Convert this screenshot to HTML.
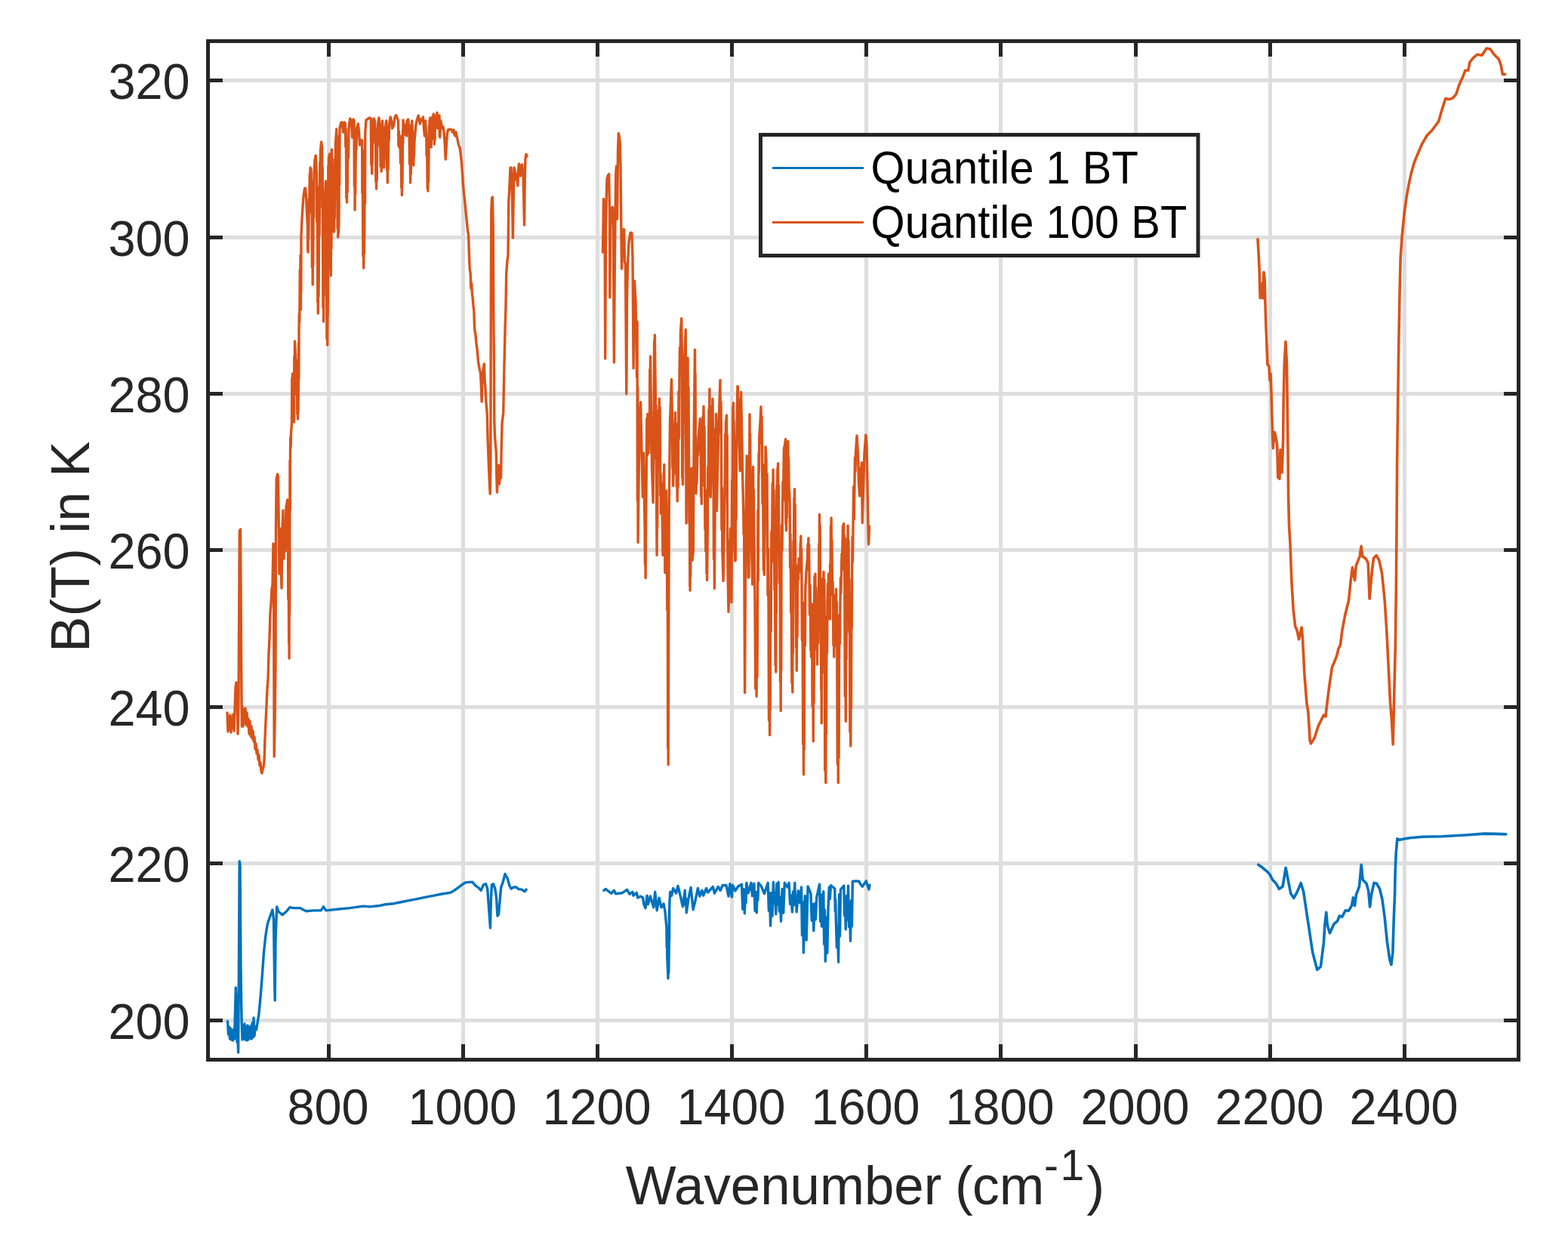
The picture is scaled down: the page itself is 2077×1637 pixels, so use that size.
<!DOCTYPE html>
<html><head><meta charset="utf-8"><title>B(T) spectra</title>
<style>html,body{margin:0;padding:0;background:#fff;width:2077px;height:1637px;overflow:hidden}svg{display:block}</style>
</head><body>
<svg width="2077" height="1637" viewBox="0 0 2077 1637" font-family="&quot;Liberation Sans&quot;, Arial, sans-serif"><path d="M435.5 54.5V1403.5M613.5 54.5V1403.5M791.5 54.5V1403.5M969.5 54.5V1403.5M1147.5 54.5V1403.5M1325.5 54.5V1403.5M1504.5 54.5V1403.5M1682.5 54.5V1403.5M1860.5 54.5V1403.5M275.5 1351.5H2011.5M275.5 1143.5H2011.5M275.5 936.5H2011.5M275.5 728.5H2011.5M275.5 521.5H2011.5M275.5 314.5H2011.5M275.5 106.5H2011.5" stroke="#DEDEDE" stroke-width="5" fill="none"/>
<polyline points="301.0,944.0 302.0,969.0 303.0,950.0 304.0,966.0 305.0,947.0 306.0,970.0 307.0,951.0 308.0,964.0 309.0,946.0 310.0,968.0 311.0,940.0 312.0,910.0 313.0,904.0 314.0,912.0 315.0,972.0 316.0,930.0 317.3,703.0 318.5,701.0 319.5,860.0 320.3,962.0 321.0,936.0 322.0,962.0 323.0,940.0 324.0,958.0 325.0,938.0 326.0,960.0 327.0,944.0 328.0,962.0 329.0,952.0 330.0,972.0 331.0,955.0 332.0,975.0 333.0,962.0 334.0,978.0 335.0,968.0 336.0,982.0 337.0,976.0 338.0,992.0 339.0,985.0 340.0,998.0 341.0,993.0 342.0,1006.0 343.0,1000.0 344.0,1014.0 345.0,1010.0 346.0,1022.0 347.0,1024.0 348.0,1019.0 349.0,1016.0 350.0,1008.0 351.0,978.0 352.0,955.0 353.0,935.0 354.0,912.0 355.0,900.0 356.0,865.0 357.0,845.0 358.0,812.0 359.0,800.0 360.0,780.0 361.0,775.0 362.0,720.0 362.6,800.0 363.2,1002.0 364.0,960.0 365.0,880.0 365.5,700.0 366.2,634.0 367.5,628.0 368.5,632.0 369.3,700.0 370.0,760.0 371.0,700.0 372.0,740.0 373.0,779.0 374.0,700.0 375.0,676.0 376.0,740.0 377.0,700.0 378.0,730.0 379.0,672.0 380.7,662.0 381.0,696.5 381.2,670.3 381.5,700.0 381.8,793.6 382.2,732.3 382.5,800.0 382.7,852.6 382.9,822.6 383.1,872.0 383.3,772.9 383.6,813.5 383.8,720.0 384.0,610.1 384.3,675.3 384.5,600.0 384.8,579.1 385.2,591.7 385.5,574.0 386.5,560.0 386.8,500.8 387.2,539.1 387.5,495.0 387.8,531.1 388.2,508.3 388.5,540.0 389.5,559.0 389.8,472.2 390.2,522.9 390.5,452.0 391.5,470.0 391.8,489.8 392.2,476.6 392.5,500.0 393.5,487.0 393.8,548.8 394.2,513.5 394.5,555.0 394.8,519.2 395.0,545.9 395.3,515.0 395.5,454.5 395.8,502.6 396.0,444.0 396.3,415.2 396.7,427.4 397.0,400.0 397.3,357.7 397.7,379.1 398.0,338.0 398.2,386.3 398.3,352.2 398.5,410.0 398.7,340.7 398.8,387.0 399.0,311.0 400.0,290.0 401.2,271.0 402.0,260.0 403.5,250.0 404.5,249.0 405.5,260.0 406.5,282.0 407.5,300.0 407.7,331.3 407.9,310.3 408.1,334.0 408.4,297.4 408.7,316.6 409.0,290.0 409.3,263.8 409.7,282.2 410.0,250.0 410.3,230.5 410.7,239.9 411.0,222.0 412.0,224.0 412.3,249.8 412.7,239.9 413.0,260.0 413.4,354.2 413.8,285.4 414.2,377.0 414.5,317.8 414.7,352.1 415.0,300.0 415.3,241.3 415.7,288.3 416.0,230.0 417.0,212.0 418.2,206.0 419.5,230.0 419.8,293.5 420.2,247.0 420.5,300.0 420.8,400.4 421.0,331.6 421.3,415.0 421.6,379.1 422.0,392.3 422.3,360.0 422.7,261.5 423.1,311.7 423.5,250.0 423.8,214.9 424.2,229.5 424.5,200.0 425.6,188.0 426.6,195.0 426.9,275.2 427.2,221.7 427.5,300.0 427.9,407.4 428.2,335.3 428.6,426.0 428.9,360.6 429.2,392.4 429.5,330.0 429.8,274.0 430.2,312.7 430.5,260.0 431.5,240.0 431.8,279.3 432.2,252.6 432.5,300.0 432.9,448.5 433.3,360.4 433.7,457.0 434.0,380.6 434.2,419.3 434.5,350.0 434.8,219.8 435.2,314.6 435.5,210.0 436.5,204.0 436.8,280.4 437.2,246.8 437.5,300.0 437.8,356.4 438.0,311.4 438.3,365.0 438.7,210.8 439.0,329.3 439.4,198.0 439.8,224.6 440.1,210.9 440.5,230.0 440.8,267.6 441.2,241.9 441.5,280.0 441.8,302.4 442.2,291.8 442.5,307.0 442.8,267.6 443.2,289.0 443.5,250.0 443.8,210.3 444.2,239.7 444.5,190.0 445.7,171.0 446.0,215.0 446.4,183.4 446.7,220.0 447.1,303.1 447.4,244.8 447.8,314.0 448.2,289.6 448.6,308.1 449.0,280.0 449.3,179.1 449.7,244.9 450.0,170.0 451.5,163.0 453.0,162.0 454.5,175.0 456.0,162.0 457.4,164.0 457.8,194.6 458.1,170.4 458.5,200.0 458.8,262.3 459.2,211.0 459.5,268.0 459.8,222.6 460.2,254.7 460.5,220.0 461.0,185.0 461.5,208.9 462.0,170.0 463.7,157.0 465.5,160.0 466.5,182.0 468.0,158.0 469.0,160.0 469.4,247.1 469.7,186.7 470.1,278.0 470.4,238.6 470.7,258.0 471.0,220.0 471.5,187.3 472.0,197.8 472.5,170.0 474.3,164.0 475.5,175.0 476.5,192.0 477.5,185.0 478.5,190.0 479.6,186.0 479.9,255.6 480.2,199.6 480.5,260.0 480.9,339.4 481.3,302.2 481.7,355.0 482.1,307.9 482.4,335.8 482.8,300.0 483.1,198.4 483.5,269.7 483.8,175.0 485.0,159.0 486.5,158.0 488.0,157.0 489.5,156.0 491.3,157.0 491.8,218.5 492.2,188.6 492.7,230.0 493.0,189.2 493.2,216.4 493.5,175.0 495.0,157.0 496.5,160.0 496.9,189.6 497.2,170.0 497.6,200.0 497.9,241.2 498.2,216.4 498.5,250.0 498.8,217.2 499.2,238.8 499.5,200.0 499.8,171.5 500.2,194.0 500.5,165.0 502.0,156.0 503.5,170.0 504.1,220.6 504.6,187.0 505.2,227.0 505.6,180.4 506.1,206.9 506.5,160.0 507.5,180.0 507.9,219.3 508.2,188.5 508.6,222.0 509.7,200.0 510.1,168.6 510.6,191.4 511.0,165.0 511.8,160.0 512.0,187.8 512.3,167.1 512.5,190.0 512.8,226.0 513.1,212.0 513.4,242.0 513.8,210.7 514.1,224.3 514.5,200.0 514.8,167.7 515.2,185.9 515.5,165.0 517.1,155.0 518.5,160.0 519.5,170.0 521.3,167.0 523.0,155.0 524.5,152.5 526.0,156.0 527.5,160.0 527.9,192.9 528.3,173.7 528.7,195.0 530.0,180.0 530.5,216.2 531.0,191.4 531.5,220.0 531.8,249.0 532.1,228.8 532.4,258.6 532.7,209.1 533.0,242.5 533.3,200.0 533.5,172.6 533.8,189.5 534.0,159.0 535.5,170.0 536.5,178.0 537.5,165.0 538.5,180.0 539.3,160.0 540.5,158.0 542.0,170.0 542.5,217.0 543.1,192.2 543.6,242.0 543.9,206.5 544.3,230.2 544.6,200.0 545.0,165.2 545.3,191.1 545.7,160.0 546.7,180.0 547.1,208.0 547.4,190.7 547.8,219.0 548.1,192.3 548.5,206.7 548.8,190.0 549.9,176.0 551.0,165.0 552.5,158.0 554.2,153.0 555.2,158.0 556.3,164.0 557.5,158.0 559.0,160.0 560.5,155.0 561.5,170.0 562.5,180.0 563.5,160.0 564.7,180.0 565.1,206.1 565.4,189.9 565.8,210.0 566.2,249.5 566.5,228.8 566.9,253.0 567.3,215.7 567.6,241.1 568.0,200.0 568.3,167.2 568.7,184.9 569.0,160.0 570.0,156.0 570.4,189.7 570.7,165.9 571.1,195.0 571.5,174.0 571.8,183.9 572.2,165.0 573.2,155.0 574.3,151.0 574.6,184.5 575.0,160.2 575.3,191.0 575.6,166.6 576.0,186.0 576.3,165.0 577.3,155.0 579.0,149.3 579.6,170.0 580.5,155.0 582.0,153.0 582.3,180.3 582.5,160.7 582.8,182.0 583.8,160.0 584.9,165.0 586.0,170.0 587.0,168.0 588.0,175.0 589.2,190.0 590.2,211.0 591.2,195.0 592.3,178.0 593.3,172.0 594.4,172.0 596.0,171.0 598.0,172.0 599.5,175.0 600.8,172.0 601.8,178.0 603.0,180.0 603.9,175.0 605.0,180.0 606.1,185.0 607.5,192.0 609.2,196.0 610.3,205.0 611.4,215.0 612.5,230.0 613.5,245.0 614.7,258.0 615.9,269.0 617.0,280.0 618.3,293.0 619.5,305.0 620.6,312.0 621.5,340.0 622.3,357.0 623.2,362.0 623.8,382.0 624.6,375.0 625.4,390.0 626.2,395.0 627.0,405.0 627.8,411.0 628.6,436.0 629.4,440.0 630.2,446.0 631.0,455.0 632.0,462.0 633.4,478.0 634.5,485.0 635.5,490.0 636.5,494.0 637.3,510.0 638.1,532.0 639.0,500.0 640.0,490.0 641.3,482.0 642.1,505.0 642.9,513.0 643.7,530.0 644.5,540.0 645.3,549.0 646.0,579.0 646.8,600.0 647.6,621.0 648.4,640.0 649.2,654.0 649.8,620.0 650.3,400.0 650.8,280.0 651.6,262.0 652.4,261.0 653.2,300.0 653.8,420.0 654.4,481.0 654.8,557.0 655.5,579.0 656.5,590.0 657.2,598.0 657.8,630.0 658.4,652.0 659.0,640.0 660.4,616.0 661.5,641.0 662.5,625.0 663.5,633.0 664.3,589.0 665.1,560.0 666.7,547.0 667.5,506.0 668.3,468.0 669.2,430.0 669.9,409.0 670.7,362.0 672.0,345.0 673.0,338.0 673.8,266.0 674.6,254.0 676.0,222.0 677.0,222.0 678.0,240.0 678.8,280.0 679.4,315.0 680.2,260.0 681.0,222.0 682.0,226.0 683.0,238.0 684.0,230.0 685.0,238.0 685.8,246.0 686.6,225.0 687.4,217.0 688.5,222.0 689.5,233.0 690.5,220.0 691.5,218.0 692.1,225.0 693.0,230.0 694.5,298.0 695.3,230.0 696.0,210.0 697.0,204.3 698.0,206.7" stroke="#D95319" stroke-width="3.4" fill="none" stroke-linejoin="round" stroke-linecap="round"/>
<polyline points="798.5,334.0 799.5,263.5 801.0,280.0 801.7,475.0 802.5,300.0 803.3,259.0 804.0,237.0 805.5,232.0 806.6,230.6 807.5,280.0 807.8,394.0 808.5,300.0 809.5,285.0 810.5,275.0 811.5,274.5 812.3,300.0 813.4,480.0 814.3,350.0 815.0,290.0 815.7,231.0 816.5,220.0 817.6,290.0 818.5,200.0 819.4,176.5 820.3,182.0 821.3,190.0 822.0,221.0 822.8,300.0 823.5,356.0 824.3,330.0 825.0,303.9 826.7,304.0 827.5,347.0 828.5,350.0 829.8,521.7 830.5,400.0 831.5,350.0 833.0,320.0 835.0,308.3 836.8,308.4 838.0,340.0 839.1,487.8 839.5,420.0 840.5,372.0 842.0,400.0 843.6,500.0 843.8,435.2 843.9,473.0 844.1,426.0 844.4,662.7 844.8,512.9 845.1,718.6 846.5,600.0 847.2,539.5 847.9,582.8 848.6,532.7 850.0,600.0 851.4,658.2 851.8,610.5 852.1,633.4 852.5,600.0 854.1,700.4 854.4,747.0 854.8,716.5 855.1,765.5 856.3,620.0 856.8,553.9 857.3,603.5 857.8,548.3 859.0,600.0 859.5,562.5 860.0,585.5 860.5,560.0 860.8,489.1 861.2,529.6 861.5,472.0 862.5,550.0 862.8,599.9 863.2,571.2 863.5,620.0 865.1,665.6 866.2,520.0 866.6,451.7 866.9,492.0 867.3,443.8 868.3,520.0 868.6,607.3 869.0,536.8 869.3,620.0 870.1,735.2 870.4,674.0 870.7,700.0 871.0,650.0 871.3,593.5 871.7,621.6 872.0,580.0 872.5,542.9 872.9,558.5 873.4,528.0 873.8,590.3 874.1,539.5 874.5,600.0 874.8,656.1 875.2,628.1 875.5,680.0 875.8,642.5 876.2,673.7 876.5,640.0 878.0,735.2 878.3,673.3 878.7,701.6 879.0,650.0 879.3,625.5 879.5,637.6 879.8,615.2 880.2,710.3 880.5,679.3 880.9,758.6 881.1,719.9 881.4,743.8 881.6,700.0 882.5,650.0 883.5,720.0 883.8,807.9 884.2,738.6 884.5,837.0 884.7,991.6 885.0,902.4 885.2,1012.7 886.2,676.6 887.5,560.0 889.5,502.5 890.5,560.0 890.9,620.0 891.3,589.1 891.7,643.6 892.1,607.1 892.6,628.4 893.0,590.0 894.5,546.4 894.9,590.6 895.4,560.8 895.8,600.0 896.3,644.2 896.7,627.9 897.2,663.7 897.6,610.7 898.1,646.1 898.5,600.0 899.0,518.3 899.5,580.8 900.0,500.0 900.5,460.4 901.0,488.1 901.5,440.0 902.7,421.8 903.5,480.0 903.8,632.8 904.2,549.6 904.5,641.7 905.5,520.0 905.8,488.7 906.2,511.0 906.5,480.0 908.2,436.5 909.1,693.0 910.0,550.0 911.0,474.0 911.5,571.9 912.0,512.8 912.5,600.0 912.9,692.5 913.3,638.2 913.7,740.0 913.8,776.5 914.0,749.4 914.1,782.1 914.4,724.3 914.7,764.1 915.0,700.0 915.3,635.5 915.7,676.9 916.0,620.0 916.3,722.8 916.7,646.1 917.0,742.0 918.3,730.0 919.3,560.0 920.5,463.1 920.8,541.0 921.0,494.5 921.3,560.0 921.5,632.6 921.8,588.8 922.0,653.6 922.5,630.8 923.0,640.5 923.5,620.0 924.0,587.8 924.5,602.9 925.0,580.0 927.4,554.7 927.7,597.5 928.0,566.6 928.3,600.0 928.6,657.7 929.0,612.2 929.3,667.4 929.7,606.6 930.1,643.7 930.5,600.0 931.0,551.5 931.5,583.1 932.0,538.2 932.5,596.5 933.0,564.9 933.5,620.0 933.9,700.9 934.4,648.8 934.8,730.0 935.7,700.0 936.0,760.0 936.3,714.2 936.6,768.4 937.5,690.0 937.8,619.0 938.2,656.2 938.5,600.0 939.0,541.9 939.4,584.2 939.9,515.3 940.1,573.9 940.3,537.4 940.5,580.0 941.2,658.2 942.5,600.0 943.0,539.0 943.4,572.5 943.9,528.1 945.0,620.0 945.5,740.6 945.9,665.7 946.4,779.2 947.3,650.0 947.7,567.8 948.1,620.2 948.5,548.3 949.4,676.6 950.5,620.0 952.0,560.0 954.0,503.4 954.5,572.9 955.0,532.1 955.5,600.0 955.9,701.2 956.4,646.0 956.8,730.0 958.1,769.4 959.5,680.0 960.5,620.0 960.8,574.6 961.2,593.0 961.5,560.0 962.5,550.0 962.8,650.5 963.2,576.4 963.5,700.0 964.1,760.0 965.0,810.4 966.0,760.0 966.5,715.7 967.0,746.8 967.5,700.0 968.9,797.7 969.5,700.0 969.8,635.4 970.2,685.3 970.5,620.0 970.8,539.2 971.1,587.5 971.4,533.6 971.8,587.0 972.1,557.8 972.5,600.0 972.9,731.2 973.3,641.2 973.7,742.9 974.3,742.0 974.7,607.3 975.1,687.4 975.5,600.0 976.9,511.6 977.4,512.0 977.8,543.6 978.1,527.8 978.5,560.0 979.5,600.0 980.2,623.8 980.7,540.7 981.1,595.4 981.6,519.3 982.8,580.0 983.8,636.6 984.8,680.0 985.1,708.2 985.4,687.5 985.7,710.0 986.6,917.6 987.5,750.0 988.5,650.0 989.3,603.6 989.6,634.0 989.9,613.5 990.2,640.0 991.2,764.9 992.0,764.6 993.0,548.6 993.3,605.0 993.7,574.6 994.0,620.0 995.7,730.0 996.7,774.0 997.6,618.3 998.0,694.5 998.4,648.4 998.8,700.0 1000.0,800.0 1000.7,911.9 1001.4,822.0 1002.1,922.2 1002.6,814.7 1003.0,896.6 1003.5,800.0 1003.9,676.1 1004.3,768.9 1004.7,650.0 1005.1,600.2 1005.4,626.0 1005.8,578.0 1007.0,560.0 1008.0,538.6 1008.5,587.1 1009.0,551.6 1009.5,600.0 1010.0,667.2 1010.5,615.1 1011.0,700.0 1011.4,755.2 1011.8,721.3 1012.2,761.2 1012.5,712.5 1012.7,739.6 1013.0,700.0 1013.3,620.9 1013.7,667.4 1014.0,591.7 1015.0,609.0 1015.5,688.7 1016.0,627.4 1016.5,700.0 1017.0,788.5 1017.5,727.1 1018.0,800.0 1018.5,953.8 1019.1,871.0 1019.6,973.5 1019.9,887.2 1020.2,940.8 1020.5,850.0 1020.8,783.5 1021.2,836.2 1021.5,760.0 1021.9,703.6 1022.4,744.4 1022.8,700.0 1023.2,640.4 1023.7,677.9 1024.1,622.0 1024.6,679.9 1025.0,648.9 1025.5,700.0 1025.9,781.2 1026.3,742.4 1026.7,800.0 1027.1,880.8 1027.4,821.7 1027.8,890.1 1028.1,690.9 1028.4,812.6 1028.7,666.0 1029.0,642.5 1029.4,661.4 1029.7,640.0 1030.0,619.8 1030.3,631.9 1030.6,613.7 1031.0,690.5 1031.4,642.9 1031.8,700.0 1032.3,772.0 1032.8,728.7 1033.3,800.0 1033.6,903.7 1033.9,861.8 1034.2,941.4 1034.5,760.3 1034.8,888.1 1035.1,739.2 1035.6,695.1 1036.0,728.9 1036.5,680.0 1037.0,638.0 1037.5,663.0 1038.0,620.0 1038.5,592.4 1039.0,607.2 1039.5,590.0 1040.6,581.6 1040.9,694.0 1041.2,611.6 1041.5,702.6 1041.9,643.0 1042.3,685.5 1042.7,620.0 1043.1,592.9 1043.5,610.9 1043.9,584.4 1044.3,624.4 1044.6,606.2 1045.0,640.0 1045.4,661.4 1045.7,651.0 1046.1,667.8 1046.6,752.0 1047.0,707.2 1047.5,760.0 1047.8,811.4 1048.2,786.1 1048.5,820.0 1048.9,904.6 1049.4,859.7 1049.8,916.7 1050.1,814.5 1050.4,864.9 1050.7,800.0 1051.0,716.3 1051.3,764.9 1051.6,700.0 1051.9,659.7 1052.2,689.4 1052.5,647.6 1052.8,702.3 1053.2,668.8 1053.5,720.0 1053.8,776.5 1054.1,755.1 1054.4,800.0 1054.7,858.1 1055.0,822.5 1055.3,888.3 1055.7,788.1 1056.1,843.4 1056.5,780.0 1057.0,748.8 1057.5,767.5 1058.0,740.0 1059.9,752.0 1060.2,719.8 1060.5,742.1 1060.8,710.0 1061.2,758.7 1061.6,727.1 1062.0,780.0 1062.4,847.9 1062.9,799.3 1063.3,880.0 1063.7,985.7 1064.1,920.2 1064.5,1025.7 1064.8,916.0 1065.2,993.1 1065.5,880.0 1065.9,796.7 1066.4,854.9 1066.8,780.0 1068.1,755.7 1069.5,740.0 1070.0,721.0 1070.4,728.9 1070.9,712.6 1071.3,754.5 1071.6,721.6 1072.0,760.0 1072.5,814.2 1073.1,775.1 1073.6,820.0 1073.9,861.7 1074.2,833.4 1074.5,870.0 1074.8,816.3 1075.2,849.6 1075.5,800.0 1076.1,935.4 1076.7,872.9 1077.3,981.7 1077.7,848.1 1078.1,931.3 1078.5,820.0 1079.0,763.2 1079.5,795.9 1080.0,760.0 1080.5,806.4 1081.0,778.4 1081.5,820.0 1081.8,860.9 1082.2,846.9 1082.5,880.0 1083.2,805.5 1083.9,851.7 1084.6,800.0 1084.9,720.2 1085.2,771.4 1085.5,681.5 1085.8,732.7 1086.2,695.8 1086.5,760.0 1086.8,802.1 1087.2,771.6 1087.5,820.0 1087.8,913.4 1088.0,880.9 1088.3,957.9 1088.6,852.9 1089.0,891.6 1089.3,800.0 1089.9,766.2 1090.4,786.5 1091.0,757.5 1091.4,807.5 1091.9,768.0 1092.3,820.0 1092.8,1020.6 1093.3,905.9 1093.8,1036.7 1094.1,902.8 1094.5,972.0 1094.8,880.0 1095.2,816.2 1095.6,864.8 1096.0,800.0 1096.5,772.7 1097.0,791.5 1097.5,760.0 1098.1,802.9 1098.7,775.8 1099.3,820.0 1099.6,747.4 1099.9,786.3 1100.2,740.0 1100.5,696.7 1100.8,717.0 1101.1,686.0 1101.5,736.4 1101.9,715.3 1102.3,760.0 1102.7,788.5 1103.1,770.5 1103.5,800.0 1103.9,854.5 1104.4,819.5 1104.8,870.0 1105.2,825.5 1105.6,850.3 1106.0,820.0 1106.5,788.3 1107.0,810.6 1107.5,780.0 1107.9,855.7 1108.4,797.5 1108.8,860.0 1109.3,1011.9 1109.8,921.4 1110.3,1036.7 1110.7,908.9 1111.1,1003.7 1111.5,880.0 1112.0,814.1 1112.5,852.5 1113.0,800.0 1113.5,765.1 1114.0,785.6 1114.5,760.0 1115.0,733.4 1115.5,744.7 1116.0,720.0 1116.5,696.0 1117.1,711.2 1117.6,693.4 1118.0,754.8 1118.4,709.2 1118.8,780.0 1119.3,922.5 1119.8,816.1 1120.3,955.2 1120.7,771.0 1121.1,873.3 1121.5,760.0 1122.0,712.9 1122.6,746.4 1123.1,696.2 1123.6,768.3 1124.0,715.7 1124.5,780.0 1124.8,837.4 1125.2,799.2 1125.5,850.0 1125.9,969.6 1126.4,889.6 1126.8,988.1 1127.1,893.3 1127.5,938.3 1127.8,850.0 1128.1,766.9 1128.3,830.7 1128.6,760.0 1129.1,711.3 1129.5,743.9 1130.0,700.0 1130.7,644.4 1131.3,687.4 1132.0,640.0 1132.5,605.7 1133.0,624.6 1133.5,600.0 1135.0,577.0 1136.5,600.0 1137.5,640.0 1138.7,656.8 1139.5,620.0 1140.5,630.0 1141.4,612.8 1142.3,692.5 1143.5,650.0 1145.0,600.0 1146.9,576.1 1148.0,590.0 1149.0,640.0 1150.0,700.0 1150.6,720.9 1151.5,697.0" stroke="#D95319" stroke-width="3.4" fill="none" stroke-linejoin="round" stroke-linecap="round"/>
<polyline points="1666.0,316.7 1667.0,333.0 1668.2,358.0 1669.2,394.8 1670.0,380.0 1671.4,375.5 1672.5,395.0 1674.0,360.6 1675.2,370.0 1675.7,392.6 1676.7,424.7 1677.8,452.5 1678.9,482.4 1681.0,485.6 1682.0,503.8 1683.1,495.3 1684.2,525.2 1685.3,565.8 1686.3,593.6 1688.0,572.2 1689.5,576.5 1691.7,589.3 1692.8,632.1 1694.9,634.2 1696.0,595.8 1698.1,625.7 1699.6,582.9 1700.2,529.5 1701.3,482.4 1703.0,452.5 1704.5,482.4 1705.2,531.6 1706.0,595.8 1706.6,658.6 1707.6,697.7 1709.0,719.7 1710.8,768.6 1713.2,807.7 1715.7,829.7 1718.1,834.6 1720.5,846.8 1724.2,831.0 1725.4,845.0 1726.7,868.8 1727.9,893.2 1731.0,932.3 1732.8,942.0 1735.2,981.2 1736.4,984.8 1741.3,977.0 1746.2,961.6 1749.9,954.0 1753.5,947.0 1756.0,949.0 1757.2,937.2 1759.6,917.7 1760.9,908.0 1764.5,883.4 1767.0,878.0 1770.6,868.8 1773.1,859.0 1775.5,854.0 1778.0,834.6 1781.6,815.0 1784.1,805.0 1786.5,795.5 1789.0,771.0 1791.4,751.5 1794.6,768.6 1796.3,749.0 1801.2,736.8 1803.1,723.4 1804.8,736.8 1809.7,740.5 1812.2,746.0 1814.1,793.0 1817.1,758.8 1819.5,739.3 1823.2,735.6 1826.8,742.0 1830.5,758.8 1834.2,795.5 1836.6,832.1 1839.1,881.0 1841.5,929.9 1843.5,954.3 1845.2,986.0 1846.4,934.8 1848.3,856.6 1849.3,780.8 1850.0,702.6 1850.6,615.5 1851.7,532.4 1852.7,459.7 1853.7,403.6 1854.2,380.0 1855.2,340.3 1857.2,312.1 1860.2,281.8 1863.3,259.7 1866.3,243.5 1869.3,229.4 1873.3,215.3 1877.4,205.2 1883.4,191.1 1890.5,179.0 1896.5,173.0 1905.6,160.9 1909.6,146.8 1914.7,130.6 1919.7,131.6 1924.7,129.6 1928.8,124.6 1932.8,112.5 1937.8,101.4 1940.9,93.3 1944.9,93.3 1946.9,82.3 1952.0,76.2 1957.0,72.2 1963.0,73.2 1969.1,64.1 1974.1,65.1 1979.2,72.2 1985.2,78.2 1988.2,86.3 1990.3,98.4 1993.7,98.4" stroke="#D95319" stroke-width="3.6" fill="none" stroke-linejoin="round" stroke-linecap="round"/>
<polyline points="301.5,1352.7 302.5,1370.0 303.5,1360.0 304.5,1376.0 305.5,1362.0 306.5,1377.0 307.5,1365.0 308.5,1378.0 309.5,1363.0 310.5,1376.0 311.5,1340.0 312.3,1308.0 313.2,1330.0 314.0,1380.0 315.0,1375.0 315.6,1394.0 316.3,1300.0 317.2,1140.7 318.0,1145.0 319.0,1285.0 320.0,1349.0 321.0,1377.0 322.0,1358.0 323.0,1376.0 324.0,1356.0 325.0,1377.0 326.0,1360.0 327.0,1378.0 328.0,1358.0 329.0,1377.0 330.0,1361.0 331.0,1375.0 332.0,1359.0 333.0,1376.0 334.0,1355.0 335.0,1374.0 336.0,1348.0 337.0,1372.0 338.0,1360.0 339.5,1364.0 341.0,1355.0 342.8,1344.0 344.4,1328.0 346.1,1308.0 347.7,1287.0 349.4,1262.0 351.9,1239.0 354.3,1224.0 357.6,1214.0 360.9,1205.0 362.5,1217.0 363.5,1290.0 364.2,1325.0 365.0,1245.0 366.7,1201.0 369.0,1207.5 374.1,1211.6 379.0,1207.5 384.0,1201.7 389.0,1202.6 397.2,1202.6 405.5,1206.7 415.4,1205.9 425.2,1205.9 428.5,1200.9 431.8,1205.9 446.7,1204.2 463.2,1202.6 481.3,1200.1 490.0,1200.9 500.6,1199.8 511.2,1197.7 521.8,1196.7 532.4,1194.5 543.0,1192.4 553.6,1190.3 564.1,1188.2 574.7,1186.1 585.3,1184.0 595.9,1182.4 601.2,1179.7 606.5,1176.0 611.8,1171.8 617.1,1168.6 625.6,1168.1 629.8,1172.8 634.1,1176.0 637.2,1179.2 640.4,1171.8 643.6,1170.7 645.7,1177.1 646.8,1193.0 648.4,1214.1 649.4,1229.0 650.5,1187.7 651.5,1171.8 653.6,1170.7 655.8,1177.1 657.4,1187.7 659.0,1213.1 660.5,1211.0 662.1,1193.0 663.7,1175.0 665.8,1169.7 669.0,1157.5 672.2,1163.3 674.8,1172.8 677.0,1177.1 680.7,1175.0 683.8,1175.0 687.0,1177.6 691.2,1178.1 695.0,1180.8 697.1,1178.1" stroke="#0072BD" stroke-width="3.4" fill="none" stroke-linejoin="round" stroke-linecap="round"/>
<polyline points="799.8,1179.3 802.2,1177.4 809.6,1183.2 813.5,1179.3 815.4,1183.7 824.2,1182.7 830.6,1178.3 834.0,1184.2 837.9,1181.3 838.9,1186.2 843.3,1182.3 844.7,1189.1 848.7,1187.1 851.6,1189.0 852.6,1196.9 855.0,1202.8 857.0,1186.2 858.4,1197.9 861.4,1187.0 865.8,1201.8 867.7,1181.3 870.2,1205.7 873.1,1189.1 876.0,1201.8 879.0,1197.0 880.9,1206.7 882.9,1228.2 883.2,1254.7 883.5,1245.6 883.8,1267.3 885.0,1295.7 885.4,1266.0 885.8,1288.4 886.2,1257.5 886.4,1206.8 886.6,1245.4 886.8,1196.9 887.8,1181.3 889.7,1186.2 891.7,1176.4 895.6,1183.0 898.0,1173.5 901.4,1187.1 904.4,1200.8 907.3,1179.3 908.0,1198.7 908.6,1190.1 909.3,1208.7 912.2,1189.0 915.1,1175.4 918.1,1204.7 921.0,1193.0 924.4,1176.4 926.9,1187.1 929.8,1179.3 931.7,1186.0 935.6,1176.4 937.6,1182.0 944.4,1174.4 946.4,1183.2 951.3,1174.4 954.2,1179.3 957.2,1172.5 962.0,1172.5 965.0,1187.1 966.9,1170.5 969.4,1188.1 970.5,1172.1 973.9,1179.9 977.7,1174.0 982.5,1171.2 983.8,1204.3 985.1,1177.4 986.4,1209.7 987.2,1179.3 988.0,1195.9 988.8,1169.3 991.2,1182.7 995.0,1169.3 996.5,1186.6 998.9,1170.2 1000.1,1206.3 1001.1,1181.5 1002.3,1208.7 1003.1,1181.1 1003.9,1191.9 1004.7,1169.3 1008.5,1174.0 1012.4,1183.7 1017.2,1169.3 1018.4,1206.3 1019.4,1182.4 1020.6,1226.1 1021.9,1182.6 1023.1,1213.2 1024.4,1168.3 1025.6,1196.4 1026.6,1182.5 1027.8,1210.7 1028.9,1170.4 1030.0,1197.9 1031.1,1168.3 1032.3,1207.1 1033.3,1188.4 1034.5,1220.3 1036.1,1177.4 1037.7,1209.1 1039.3,1169.3 1043.2,1175.0 1045.1,1169.3 1046.6,1197.4 1047.9,1186.0 1049.4,1207.8 1050.6,1180.9 1051.6,1198.7 1052.8,1169.3 1053.6,1197.5 1054.4,1186.0 1055.2,1207.8 1057.3,1179.6 1059.4,1195.9 1061.5,1175.0 1062.5,1238.8 1063.4,1194.6 1064.4,1261.7 1066.3,1186.4 1068.2,1245.1 1070.1,1174.0 1074.0,1183.7 1075.3,1219.2 1076.5,1197.5 1077.8,1232.8 1079.1,1196.6 1080.4,1217.9 1081.7,1188.5 1085.6,1171.2 1086.6,1220.2 1087.4,1186.6 1088.4,1227.0 1089.2,1184.5 1090.0,1209.1 1090.8,1180.8 1091.6,1250.6 1092.5,1204.9 1093.3,1273.3 1094.6,1214.9 1095.8,1262.2 1097.1,1202.0 1098.3,1174.9 1099.3,1190.6 1100.5,1172.6 1105.8,1177.0 1106.3,1206.7 1106.7,1191.2 1107.2,1213.6 1108.4,1254.8 1109.4,1229.1 1110.6,1274.2 1111.6,1184.7 1112.5,1239.9 1113.5,1178.0 1117.8,1173.1 1118.6,1212.8 1119.4,1191.0 1120.2,1230.9 1121.4,1186.5 1122.4,1218.0 1123.6,1173.1 1124.6,1227.8 1125.5,1199.1 1126.5,1246.3 1127.5,1192.8 1128.4,1227.0 1129.4,1167.3 1133.7,1166.9 1138.0,1167.3 1139.5,1170.7 1142.4,1174.1 1147.2,1166.9 1151.0,1177.9 1152.0,1172.1" stroke="#0072BD" stroke-width="3.4" fill="none" stroke-linejoin="round" stroke-linecap="round"/>
<polyline points="1666.8,1145.2 1671.5,1148.5 1678.9,1154.6 1682.3,1158.6 1685.6,1165.3 1690.3,1170.0 1694.3,1177.4 1699.1,1174.1 1703.1,1149.2 1705.8,1163.3 1709.8,1183.5 1713.8,1189.5 1718.5,1180.8 1723.2,1169.4 1726.6,1180.8 1730.6,1207.7 1734.7,1234.5 1738.7,1261.4 1744.7,1284.3 1749.4,1280.2 1753.5,1248.0 1754.8,1225.1 1756.8,1208.3 1758.2,1225.0 1761.5,1235.9 1766.9,1223.8 1771.6,1219.8 1774.3,1213.0 1777.7,1214.4 1782.4,1205.7 1786.4,1206.4 1790.4,1199.6 1792.5,1188.9 1794.5,1199.6 1796.5,1184.8 1800.5,1174.1 1803.2,1145.2 1805.2,1165.3 1809.9,1170.0 1812.6,1179.4 1814.6,1201.0 1816.6,1184.8 1820.0,1169.4 1823.4,1170.0 1827.4,1176.8 1830.8,1190.2 1834.1,1214.4 1837.5,1248.0 1840.8,1270.8 1842.9,1277.6 1844.9,1261.4 1846.2,1218.4 1847.6,1183.5 1848.2,1152.6 1849.2,1129.7 1850.9,1110.9 1854.3,1112.3 1860.0,1111.0 1867.5,1109.7 1885.0,1108.2 1910.0,1107.8 1941.3,1106.0 1966.4,1104.1 1980.0,1104.4 1994.8,1104.9" stroke="#0072BD" stroke-width="3.6" fill="none" stroke-linejoin="round" stroke-linecap="round"/>
<path d="M435.5 1406V1383M435.5 52V75M613.5 1406V1383M613.5 52V75M791.5 1406V1383M791.5 52V75M969.5 1406V1383M969.5 52V75M1147.5 1406V1383M1147.5 52V75M1325.5 1406V1383M1325.5 52V75M1504.5 1406V1383M1504.5 52V75M1682.5 1406V1383M1682.5 52V75M1860.5 1406V1383M1860.5 52V75M273 1351.5H295M2014 1351.5H1992M273 1143.5H295M2014 1143.5H1992M273 936.5H295M2014 936.5H1992M273 728.5H295M2014 728.5H1992M273 521.5H295M2014 521.5H1992M273 314.5H295M2014 314.5H1992M273 106.5H295M2014 106.5H1992" stroke="#262626" stroke-width="5" fill="none"/>
<rect x="275.5" y="54.5" width="1736.0" height="1349.0" stroke="#262626" stroke-width="5" fill="none"/>
<text transform="translate(434.5 1489.2) scale(0.96 1)" text-anchor="middle" font-size="67.5" fill="#262626">800</text>
<text transform="translate(612.5 1489.2) scale(0.96 1)" text-anchor="middle" font-size="67.5" fill="#262626">1000</text>
<text transform="translate(790.5 1489.2) scale(0.96 1)" text-anchor="middle" font-size="67.5" fill="#262626">1200</text>
<text transform="translate(968.5 1489.2) scale(0.96 1)" text-anchor="middle" font-size="67.5" fill="#262626">1400</text>
<text transform="translate(1146.5 1489.2) scale(0.96 1)" text-anchor="middle" font-size="67.5" fill="#262626">1600</text>
<text transform="translate(1324.5 1489.2) scale(0.96 1)" text-anchor="middle" font-size="67.5" fill="#262626">1800</text>
<text transform="translate(1503.5 1489.2) scale(0.96 1)" text-anchor="middle" font-size="67.5" fill="#262626">2000</text>
<text transform="translate(1681.5 1489.2) scale(0.96 1)" text-anchor="middle" font-size="67.5" fill="#262626">2200</text>
<text transform="translate(1859.5 1489.2) scale(0.96 1)" text-anchor="middle" font-size="67.5" fill="#262626">2400</text>
<text transform="translate(251.5 1376.1) scale(0.96 1)" text-anchor="end" font-size="67.5" fill="#262626">200</text>
<text transform="translate(251.5 1168.1) scale(0.96 1)" text-anchor="end" font-size="67.5" fill="#262626">220</text>
<text transform="translate(251.5 961.1) scale(0.96 1)" text-anchor="end" font-size="67.5" fill="#262626">240</text>
<text transform="translate(251.5 753.1) scale(0.96 1)" text-anchor="end" font-size="67.5" fill="#262626">260</text>
<text transform="translate(251.5 546.1) scale(0.96 1)" text-anchor="end" font-size="67.5" fill="#262626">280</text>
<text transform="translate(251.5 339.1) scale(0.96 1)" text-anchor="end" font-size="67.5" fill="#262626">300</text>
<text transform="translate(251.5 131.1) scale(0.96 1)" text-anchor="end" font-size="67.5" fill="#262626">320</text>
<text transform="translate(118 724.2) rotate(-90) scale(0.99 1)" text-anchor="middle" font-size="71.5" fill="#262626">B(T) in K</text>
<text transform="translate(828.8 1594.6) scale(0.9905 1)" font-size="71.5" fill="#262626">Wavenumber</text>
<text x="1265" y="1594.6" font-size="71.5" fill="#262626">(</text>
<text x="1288" y="1594.6" font-size="71.5" fill="#262626">cm</text>
<text x="1383" y="1562.5" font-size="57" fill="#262626">-</text>
<text x="1404.5" y="1562.5" font-size="57" fill="#262626">1</text>
<text x="1439.2" y="1594.6" font-size="71.5" fill="#262626">)</text>
<rect x="1007.5" y="178.5" width="579.5" height="160" fill="#fff" stroke="#262626" stroke-width="5"/>
<path d="M1023 222.5H1144" stroke="#0072BD" stroke-width="3"/>
<path d="M1023 294.5H1144" stroke="#D95319" stroke-width="3"/>
<text transform="translate(1153.6 242.8) scale(0.95 1)" font-size="61" fill="#000">Quantile 1 BT</text>
<text transform="translate(1153.6 315.4) scale(0.95 1)" font-size="61" fill="#000">Quantile 100 BT</text></svg>
</body></html>
